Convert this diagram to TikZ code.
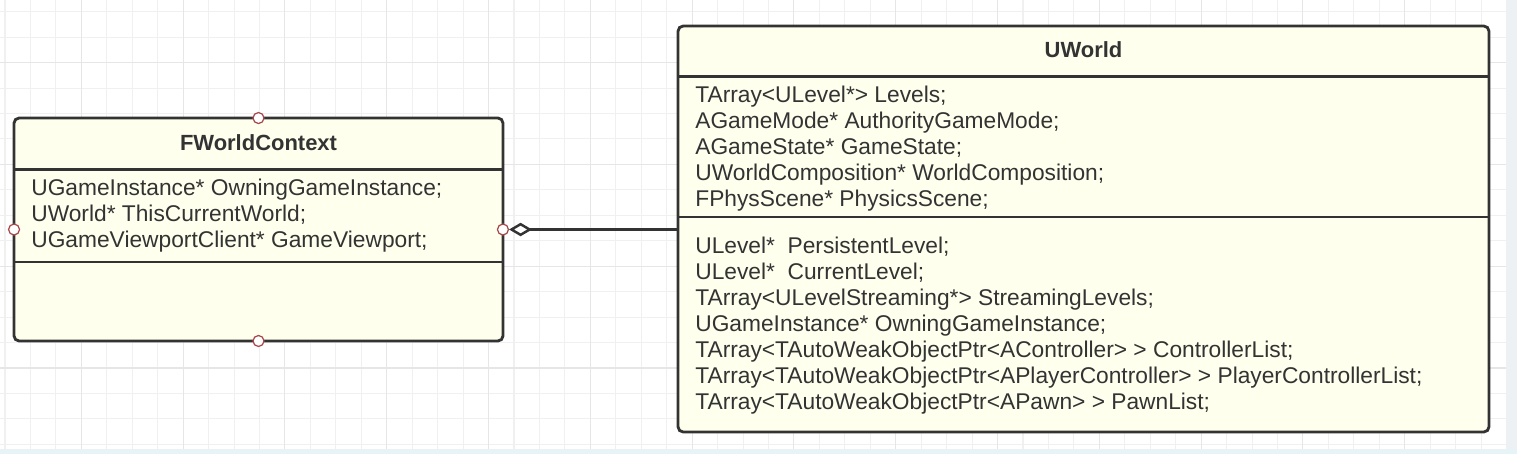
\documentclass[tikz,border=0pt]{standalone}
\usepackage{fontspec}
\setmainfont{Liberation Sans}
\usetikzlibrary{arrows.meta}
\definecolor{boxfill}{HTML}{FFFFEE}
\definecolor{boxline}{HTML}{333333}
\definecolor{portred}{HTML}{A8474A}
\definecolor{gridminor}{HTML}{F0F0F0}
\definecolor{gridmajor}{HTML}{E6E6E6}
\definecolor{edgeright}{HTML}{EEF1F4}
\definecolor{edgebottom}{HTML}{E6F3F7}

\begin{document}
\begin{tikzpicture}[x=0.02cm, y=-0.02cm,
    cls/.style = {draw=boxline, fill=boxfill, line width=1.6pt, rounded corners=0.1cm, inner sep=0, outer sep=0},
    sep/.style = {draw=boxline, line width=1.6pt},
    ttl/.style = {anchor=base, inner sep=0, text=boxline, font=\fontsize{12.5}{15}\selectfont\bfseries},
    attr/.style = {anchor=base west, inner sep=0, text=boxline, font=\fontsize{12.95}{15}\selectfont},
    port/.style = {draw=portred, fill=white, circle, inner sep=0, minimum size=0.22cm, line width=0.7pt},
    agg/.style = {draw=boxline, line width=1.4pt, {Diamond[open, length=0.46cm, width=0.27cm]}-}]

    \useasboundingbox (0,0) rectangle (1517,454);

    % background grid
    \fill[white] (0,0) rectangle (1506,449);
    \foreach \x in {5,30.45,...,1506} \draw[gridminor, line width=0.6pt] (\x,0) -- (\x,449);
    \foreach \y in {11.7,37.15,...,449} \draw[gridminor, line width=0.6pt] (0,\y) -- (1506,\y);
    \foreach \x in {81.35,183.15,...,1506} \draw[gridmajor, line width=0.6pt] (\x,0) -- (\x,449);
    \foreach \y in {62.6,164.4,...,449} \draw[gridmajor, line width=0.6pt] (0,\y) -- (1506,\y);
    \fill[edgeright] (1506,0) rectangle (1517,454);
    \fill[edgebottom] (0,449) rectangle (1517,454);

    % classes
    \node[cls, minimum width=9.78cm, minimum height=4.46cm] (ctx) at (258.5,229.5) {};
    \node[cls, minimum width=16.22cm, minimum height=8.12cm] (world) at (1083.5,229) {};

    \draw[sep] (14,169.5) -- (503,169.5);
    \draw[sep] (14,262) -- (503,262);
    \draw[sep] (678,76.5) -- (1489,76.5);
    \draw[sep] (678,217) -- (1489,217);

    \node[ttl] (ctxT) at (258.5,150) {FWorldContext};
    \node[ttl] (worldT) at (1083.5,57) {UWorld};

    \foreach \t [count=\i] in {UGameInstance* OwningGameInstance;,
        UWorld* ThisCurrentWorld;,
        UGameViewportClient* GameViewport;}
      \node[attr] (ctxA\i) at (31,{195.5+26*(\i-1)}) {\t};

    \foreach \t [count=\i] in {TArray<ULevel*> Levels;,
        AGameMode* AuthorityGameMode;,
        AGameState* GameState;,
        UWorldComposition* WorldComposition;,
        FPhysScene* PhysicsScene;}
      \node[attr] (worldA\i) at (695,{102.5+26*(\i-1)}) {\t};

    \foreach \t [count=\i] in {ULevel*\ \ PersistentLevel;,
        ULevel*\ \ CurrentLevel;,
        TArray<ULevelStreaming*> StreamingLevels;,
        UGameInstance* OwningGameInstance;,
        TArray<TAutoWeakObjectPtr<AController> > ControllerList;,
        TArray<TAutoWeakObjectPtr<APlayerController> > PlayerControllerList;,
        TArray<TAutoWeakObjectPtr<APawn> > PawnList;}
      \node[attr] (worldB\i) at (695,{253.5+26*(\i-1)}) {\t};

    % connection points
    \node[port] (ctxN) at (ctx.north) {};
    \node[port] (ctxS) at (ctx.south) {};
    \node[port] (ctxW) at (ctx.west) {};
    \node[port] (ctxE) at (ctx.east) {};

    \coordinate (worldW) at (world.west |- ctxE);
    \draw[agg] (ctxE.east) -- (worldW);
\end{tikzpicture}
\end{document}
